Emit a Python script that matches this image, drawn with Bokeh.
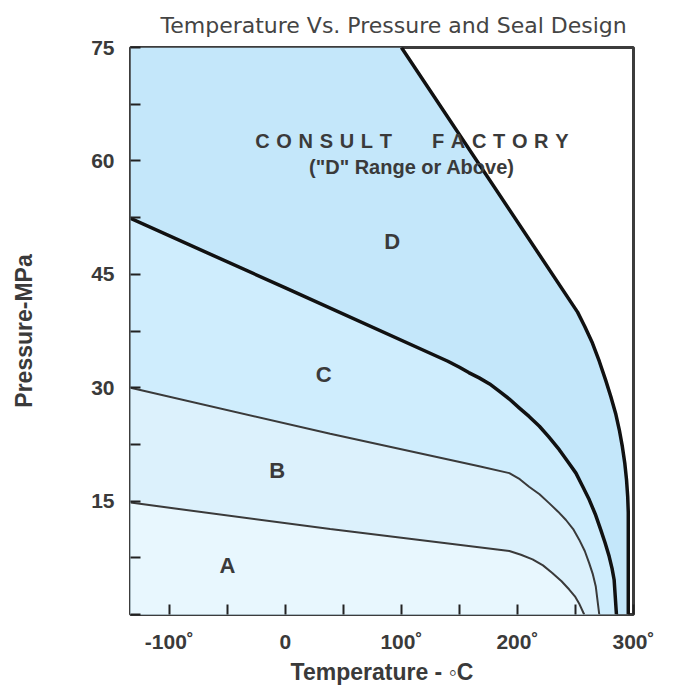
from bokeh.plotting import figure
from bokeh.models import FixedTicker, Label, Range1d
from bokeh.embed import file_html
from bokeh.resources import INLINE

# ---- data (Temperature in °C, Pressure in MPa) ----
ab_t = [-133.5, 38.6, 193, 203, 213, 222, 230, 238, 244.6, 249.5, 253, 257.5]
ab_p = [14.8, 11.3, 8.4, 7.9, 7.3, 6.5, 5.5, 4.4, 3.3, 2.4, 1.5, 0]

bc_t = [-133.5, 38.6, 167, 193, 202, 210, 219, 227.5, 235, 241.8, 248, 253.2, 258, 261.8, 265, 267.5, 270.5]
bc_p = [30.0, 23.9, 19.6, 18.7, 17.9, 16.9, 15.9, 14.7, 13.6, 12.5, 11.3, 9.9, 8.4, 6.8, 5.3, 3.7, 0]

cd_t = [-133.5, 0, 140, 150, 158, 167, 176, 184.5, 193, 201.7, 210, 218.9, 227, 236, 243, 250.4, 256, 261.8,
        267, 271.8, 275.5, 279, 281.5, 283.3, 285.3]
cd_p = [52.4, 43.2, 33.5, 32.7, 32.0, 31.3, 30.5, 29.5, 28.5, 27.3, 26.2, 24.9, 23.5, 21.8, 20.3, 18.7, 17.0, 15.2,
        13.3, 11.2, 9.5, 7.7, 6.1, 4.6, 0]

outer_t = [100, 251.8, 258, 264.6, 270.5, 276, 280.5, 284.6, 287.8, 290.4, 292.5, 294, 295, 295.5, 295.5]
outer_p = [75, 40, 38.1, 35.9, 33.5, 31, 28.8, 26.6, 24.4, 22.2, 20.0, 17.8, 15.6, 13.5, 0]

x_ticks = [-100, -50, 0, 50, 100, 150, 200, 250, 300]
x_tick_labels = {-100: "-100˚", -50: "", 0: "0", 50: "", 100: "100˚", 150: "", 200: "200˚", 250: "", 300: "300˚"}
y_ticks = [0, 7.5, 15, 22.5, 30, 37.5, 45, 52.5, 60, 67.5, 75]
y_tick_labels = {0: "", 7.5: "", 15: "15", 22.5: "", 30: "30", 37.5: "", 45: "45", 52.5: "", 60: "60", 67.5: "", 75: "75"}

region_names = ["A", "B", "C", "D"]
region_t = [-50, -7, 33, 92]
region_p = [6.5, 19, 31.8, 49.3]

title_text = "Temperature Vs. Pressure and Seal Design"

x_min, x_max = -133.5, 300
y_min, y_max = 0, 75

TXT = "#3a3a3a"
FONT = "Liberation Sans"

p = figure(width=677, height=688, output_backend="svg", toolbar_location=None,
           x_range=Range1d(x_min, x_max), y_range=Range1d(y_min, y_max),
           min_border_left=130, min_border_right=44, min_border_top=47, min_border_bottom=74,
           title=title_text)
p.background_fill_color = "white"
p.border_fill_color = "white"
p.grid.visible = False
p.outline_line_color = "#3c3c3c"
p.outline_line_width = 3

p.title.align = "left"
p.title.offset = 30
p.title.text_font = "DejaVu Sans"
p.title.text_font_style = "normal"
p.title.text_font_size = "22px"
p.title.text_color = "#444444"
p.title.standoff = 20

# region fills, outermost first
p.patch([cd_t[0], cd_t[0]] + outer_t, [0, y_max] + outer_p, fill_color="#c4e7fa", line_color=None)
p.patch([cd_t[0]] + cd_t, [0] + cd_p, fill_color="#cfedfd", line_color=None)
p.patch([bc_t[0]] + bc_t, [0] + bc_p, fill_color="#dcf1fc", line_color=None)
p.patch([ab_t[0]] + ab_t, [0] + ab_p, fill_color="#e8f7fe", line_color=None)

# boundaries
p.line(ab_t, ab_p, line_color="#3a3a3a", line_width=2)
p.line(bc_t, bc_p, line_color="#3a3a3a", line_width=2)
p.line(cd_t, cd_p, line_color="#111111", line_width=3.5, line_join="round")
p.line(outer_t, outer_p, line_color="#111111", line_width=3.5, line_join="round")

for name, t, pr in zip(region_names, region_t, region_p):
    p.add_layout(Label(x=t, y=pr, text=name, text_font=FONT, text_font_style="bold",
                       text_font_size="22px", text_color=TXT, text_align="center",
                       text_baseline="middle"))

sp = "\u2004"
consult = (sp.join("CONSULT")) + sp * 6 + (sp.join("FACTORY"))
p.add_layout(Label(x=109, y=62.6, text=consult, text_font=FONT, text_font_style="bold",
                   text_font_size="20px", text_color=TXT, text_align="center", text_baseline="middle"))
p.add_layout(Label(x=109, y=59.2, text='("D" Range or Above)', text_font=FONT, text_font_style="bold",
                   text_font_size="20px", text_color=TXT, text_align="center", text_baseline="middle"))

# axes
for ax in (p.xaxis[0], p.yaxis[0]):
    ax.axis_line_color = None
    ax.major_tick_in = 10
    ax.major_tick_out = 0
    ax.minor_tick_line_color = None
    ax.major_tick_line_color = "#222222"
    ax.major_tick_line_width = 2
    ax.major_label_text_font = FONT
    ax.major_label_text_font_style = "bold"
    ax.major_label_text_font_size = "21px"
    ax.major_label_text_color = TXT
    ax.axis_label_text_font = FONT
    ax.axis_label_text_font_style = "bold"
    ax.axis_label_text_font_size = "23px"
    ax.axis_label_text_color = TXT

p.xaxis.ticker = FixedTicker(ticks=x_ticks)
p.xaxis.major_label_overrides = x_tick_labels
p.xaxis.major_label_standoff = 15
p.xaxis.axis_label = "Temperature - \u25e6C"
p.xaxis.axis_label_standoff = 3

p.yaxis.ticker = FixedTicker(ticks=y_ticks)
p.yaxis.major_label_overrides = y_tick_labels
p.yaxis.major_label_standoff = 16
p.yaxis.axis_label = "Pressure-MPa"
p.yaxis.axis_label_standoff = 51

open("out.html", "w").write(file_html(p, INLINE))
